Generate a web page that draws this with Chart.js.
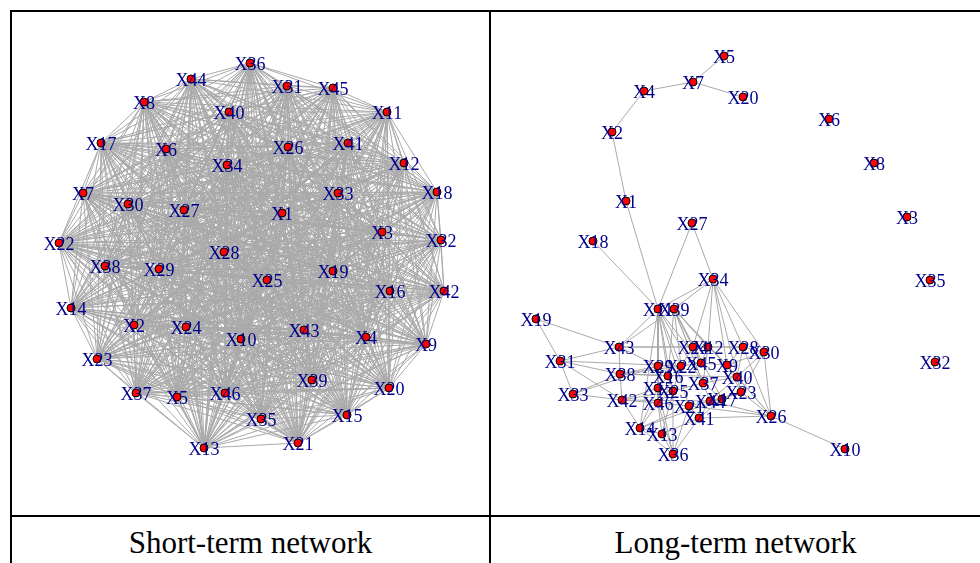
<!DOCTYPE html>
<html>
<head>
<meta charset="utf-8">
<script src="https://cdn.jsdelivr.net/npm/chart.js@4.4.1/dist/chart.umd.min.js"></script>
<style>
  html, body { margin: 0; padding: 0; background: #fff; width: 980px; height: 563px; overflow: hidden; }
  .rule { position: absolute; background: #000; }
  canvas { position: absolute; }
  .cap { position: absolute; top: 527px; height: 31px; line-height: 31px; font-family: "Liberation Serif", "Times New Roman", serif; font-size: 31px; color: #000; text-align: center; }
</style>
</head>
<body>
<div class="rule" style="left:10px;top:10px;width:970px;height:2px"></div>
<div class="rule" style="left:10px;top:10px;width:2px;height:553px"></div>
<div class="rule" style="left:489px;top:10px;width:2px;height:553px"></div>
<div class="rule" style="left:10px;top:515px;width:970px;height:2px"></div>

<canvas id="shortNet" width="477" height="503" style="left:12px;top:12px"></canvas>
<canvas id="longNet" width="489" height="503" style="left:491px;top:12px"></canvas>

<div class="cap" style="left:12px;width:477px">Short-term network</div>
<div class="cap" style="left:491px;width:489px">Long-term network</div>

<script>
// Variables (vertices), X1 ... X46
const nodeNames = ['X1','X2','X3','X4','X5','X6','X7','X8','X9','X10',
  'X11','X12','X13','X14','X15','X16','X17','X18','X19','X20',
  'X21','X22','X23','X24','X25','X26','X27','X28','X29','X30',
  'X31','X32','X33','X34','X35','X36','X37','X38','X39','X40',
  'X41','X42','X43','X44','X45','X46'];

// Short-term network layout (x right, y up), in node order
const shortX = [32,-116,132,116,-73,-84,-167,-106,176,-9,
  137,154,-46,-179,97,140,-149,187,83,139,
  48,-191,-153,-64,17,38,-66,-26,-91,-122,
  37,191,88,-23,11,0,-114,-145,62,-21,
  98,194,54,-59,83,-25];
const shortY = [42,-70,23,-82,-142,106,62,153,-89,-84,
  143,92,-193,-53,-160,-36,112,63,-16,-133,
  -188,12,-104,-72,-25,108,45,3,-14,51,
  169,15,62,90,-164,192,-138,-11,-125,143,
  112,-36,-75,176,167,-138];

// Long-term network layout, in node order
const longX = [-110,-124,171,-92,-12,93,-43,138,-9,109,
  -78,-28,-74,-96,-78,-68,-14,-143,-200,7,
  -47,-55,5,-43,-63,35,-44,7,-78,28,
  -176,199,-163,-23,194,-63,-33,-116,-62,1,
  -37,-114,-117,-26,-35,-78];
const longY = [55,124,39,165,200,137,174,93,-109,-193,
  -53,-91,-178,-172,-132,-120,-143,15,-63,159,
  -150,-110,-136,-91,-135,-160,33,-91,-110,-96,
  -105,-106,-138,-23,-24,-198,-127,-118,-53,-121,
  -162,-144,-91,-145,-107,-147];

// Long-term links (pairs of variable numbers)
const longLinks = [
  [5,7],[7,4],[7,20],[4,2],[2,1],[1,11],[18,11],[27,11],[27,34],
  [34,11],[34,39],[34,24],[34,12],[34,28],[34,30],[34,23],[34,9],
  [19,43],[19,31],[31,43],[31,38],[31,42],[31,33],[31,22],[33,38],[33,42],[33,29],
  [43,38],[38,42],[43,11],[43,39],[43,24],[43,29],[43,28],
  [38,29],[38,16],[38,22],[38,40],[42,46],[42,15],[42,25],[42,44],[42,14],
  [14,13],[14,36],[14,46],[14,21],[14,15],[14,17],[14,11],
  [36,13],[36,15],[36,25],[36,46],[36,21],[36,41],
  [26,10],[26,23],[26,30],[26,28],[26,40],[26,41],[26,44],[26,9],[26,21],
  [11,29],[11,22],[11,16],[11,15],[11,25],[11,46],[11,37],[11,21],[11,45],
  [39,45],[39,37],[39,9],[39,17],[39,44],[39,40],[39,22],[39,16],[39,12],[39,24],
  [24,12],[12,28],[28,30],[24,22],[12,45],[12,9],[28,9],[28,40],[30,40],[30,23],
  [29,22],[22,45],[45,9],[9,40],[40,23],[29,16],[16,15],[15,25],[25,37],[37,40],
  [37,17],[17,44],[44,23],[44,41],[21,41],[46,21],[46,25],[13,46],[13,25],[41,17],
  [41,13],[21,17],[16,25],[22,25],[29,15],[24,45],[12,37],[44,40],[23,17],[9,23],[30,9]
];

// Short-term links: every pair of variables is connected
const shortLinks = [];
for (let a = 1; a <= nodeNames.length; a++) {
  for (let b = a + 1; b <= nodeNames.length; b++) shortLinks.push([a, b]);
}

const EDGE_COLOR = '#a9a9a9';
const LABEL_COLOR = '#00008b';
const LABEL_FONT = '18px "Liberation Serif", "Times New Roman", serif';

// Writes each vertex name centred on its vertex
const vertexLabels = {
  id: 'vertexLabels',
  afterDatasetsDraw(chart) {
    const { ctx, scales } = chart;
    const names = chart.options.plugins.vertexLabels.names;
    const pts = chart.data.datasets[0].data;
    ctx.save();
    ctx.font = LABEL_FONT;
    ctx.fillStyle = LABEL_COLOR;
    ctx.textAlign = 'center';
    ctx.textBaseline = 'middle';
    pts.forEach((p, i) => {
      const px = scales.x.getPixelForValue(p.x);
      const py = scales.y.getPixelForValue(p.y);
      ctx.fillText(names[i], px, py + 2);
    });
    ctx.restore();
  }
};

function drawNetwork(canvasId, xs, ys, links, xr, yr) {
  const vertices = xs.map((x, i) => ({ x: x, y: ys[i] }));
  const edgePath = [];
  links.forEach(([a, b]) => {
    edgePath.push({ x: xs[a - 1], y: ys[a - 1] });
    edgePath.push({ x: xs[b - 1], y: ys[b - 1] });
    edgePath.push({ x: xs[b - 1], y: null }); // break between links
  });
  new Chart(document.getElementById(canvasId), {
    type: 'scatter',
    data: {
      datasets: [
        {
          data: vertices,
          order: 1,
          pointRadius: 4,
          pointHoverRadius: 4,
          pointBackgroundColor: '#ff0000',
          pointBorderColor: '#000000',
          pointBorderWidth: 1,
          clip: false
        },
        {
          data: edgePath,
          order: 2,
          showLine: true,
          spanGaps: false,
          borderColor: EDGE_COLOR,
          borderWidth: 1,
          pointRadius: 0,
          pointHoverRadius: 0,
          clip: false
        }
      ]
    },
    options: {
      responsive: false,
      animation: false,
      events: [],
      layout: { padding: 0, autoPadding: false },
      scales: {
        x: { type: 'linear', display: false, min: xr[0], max: xr[1] },
        y: { type: 'linear', display: false, min: yr[0], max: yr[1] }
      },
      plugins: {
        legend: { display: false },
        tooltip: { enabled: false },
        vertexLabels: { names: nodeNames }
      }
    },
    plugins: [vertexLabels]
  });
}

drawNetwork('shortNet', shortX, shortY, shortLinks, [-238, 239], [-260, 243]);
drawNetwork('longNet', longX, longY, longLinks, [-245, 244], [-259, 244]);
</script>
</body>
</html>
